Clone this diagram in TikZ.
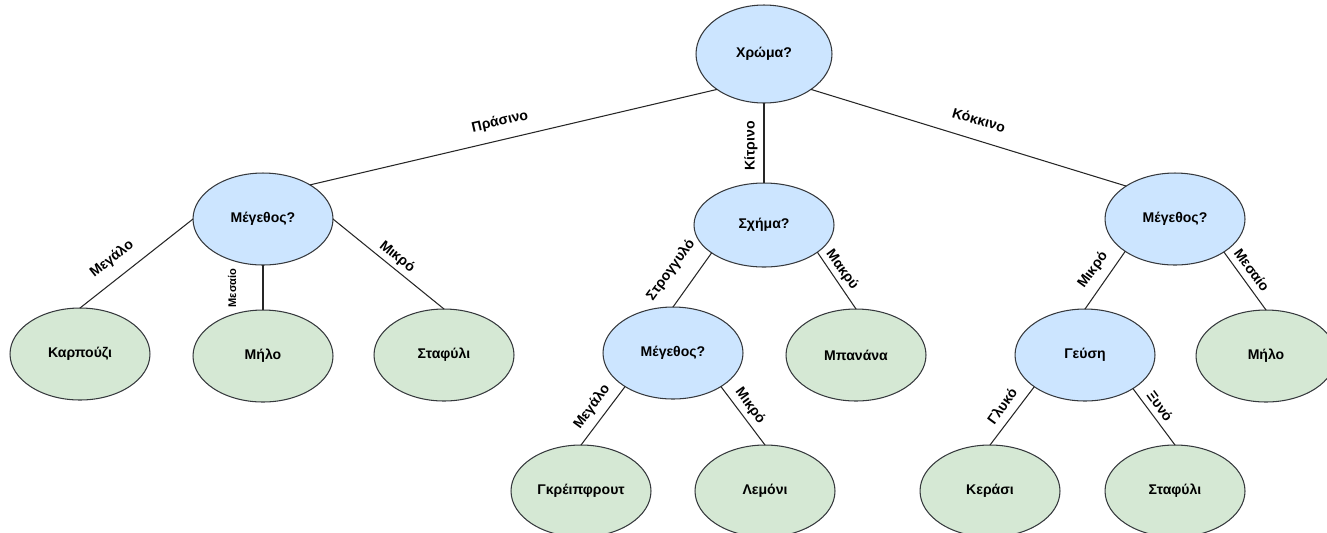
\documentclass[tikz,border=0pt]{standalone}
\usepackage{fontspec}
\setmainfont{Liberation Sans}
\usetikzlibrary{shapes.geometric}
\definecolor{bluefill}{HTML}{CCE5FF}
\definecolor{greenfill}{HTML}{D5E8D4}
\definecolor{strokec}{HTML}{36393D}
\begin{document}
\begin{tikzpicture}[x=0.02cm, y=-0.02cm,
  qnode/.style={ellipse, draw=strokec, fill=bluefill, line width=0.6pt, minimum width=2.8cm, minimum height=1.84cm, inner sep=0pt, outer sep=0pt, font=\fontsize{8}{9.6}\selectfont\bfseries},
  leaf/.style={qnode, fill=greenfill},
  edge/.style={draw=black!85, line width=0.6pt},
  lbl/.style={font=\fontsize{8}{9.6}\selectfont\bfseries, inner sep=0pt},
  smalllbl/.style={lbl, font=\fontsize{6.3}{7.5}\selectfont\bfseries}
]
\useasboundingbox (0,0) rectangle (1327,532);
\clip (0,0) rectangle (1327,532);
% nodes
\node[qnode, minimum width=2.72cm, minimum height=1.96cm] (root) at (764,54) {Χρώμα?};
\node[qnode] (ml) at (263,219) {Μέγεθος?};
\node[qnode, minimum height=1.68cm] (shape) at (764,225) {Σχήμα?};
\node[qnode] (mr) at (1175,219) {Μέγεθος?};
\node[leaf] (karp) at (80,354) {Καρπούζι};
\node[leaf] (milo1) at (263,356) {Μήλο};
\node[leaf] (staf1) at (444,355) {Σταφύλι};
\node[qnode] (mm) at (673,353) {Μέγεθος?};
\node[leaf] (banana) at (856,355) {Μπανάνα};
\node[qnode] (geusi) at (1085,355) {Γεύση};
\node[leaf] (milo2) at (1266,356) {Μήλο};
\node[leaf] (grape) at (581,491) {Γκρέιπφρουτ};
\node[leaf] (lemon) at (765,491) {Λεμόνι};
\node[leaf] (cherry) at (990,491) {Κεράσι};
\node[leaf] (staf2) at (1175,491) {Σταφύλι};
% edges
\draw[edge] (root.217) -- (ml.36.5);
\draw[edge] (root.south) -- (shape.north);
\draw[edge] (root.-37) -- (mr.146);
\draw[edge] (ml.west) -- (karp.north);
\draw[edge] (ml.south) -- (milo1.north);
\draw[edge] (ml.east) -- (staf1.north);
\draw[edge] (shape.208) -- (mm.north);
\draw[edge] (shape.-27.5) -- (banana.north);
\draw[edge] (mm.215) -- (grape.north);
\draw[edge] (mm.-35.5) -- (lemon.north);
\draw[edge] (mr.213) -- (geusi.north);
\draw[edge] (mr.-34.5) -- (milo2.north);
\draw[edge] (geusi.212) -- (cherry.north);
\draw[edge] (geusi.-35) -- (staf2.north);
% labels
\node[lbl, rotate=13] (lPrasino) at (500,122) {Πράσινο};
\node[lbl, rotate=90] (lKitrino) at (751,146) {Κίτρινο};
\node[lbl, rotate=-16.5] (lKokkino) at (979,120) {Κόκκινο};
\node[lbl, rotate=38.5] (lMegalo1) at (112,259) {Μεγάλο};
\node[smalllbl, rotate=90] (lMesaio1) at (232,288) {Μεσαίο};
\node[lbl, rotate=-39] (lMikro1) at (397,257) {Μικρό};
\node[lbl, rotate=54] (lStrog) at (671,270) {Στρογγυλό};
\node[lbl, rotate=-54] (lMakry) at (842,270) {Μακρύ};
\node[lbl, rotate=54] (lMegalo2) at (592,407) {Μεγάλο};
\node[lbl, rotate=-54] (lMikro2) at (750,406) {Μικρό};
\node[lbl, rotate=54] (lMikro3) at (1093,270) {Μικρό};
\node[lbl, rotate=-54] (lMesaio2) at (1252,270) {Μεσαίο};
\node[lbl, rotate=54] (lGlyko) at (1002,406) {Γλυκό};
\node[lbl, rotate=-54] (lXyno) at (1160,406) {Ξυνό};
\end{tikzpicture}
\end{document}
